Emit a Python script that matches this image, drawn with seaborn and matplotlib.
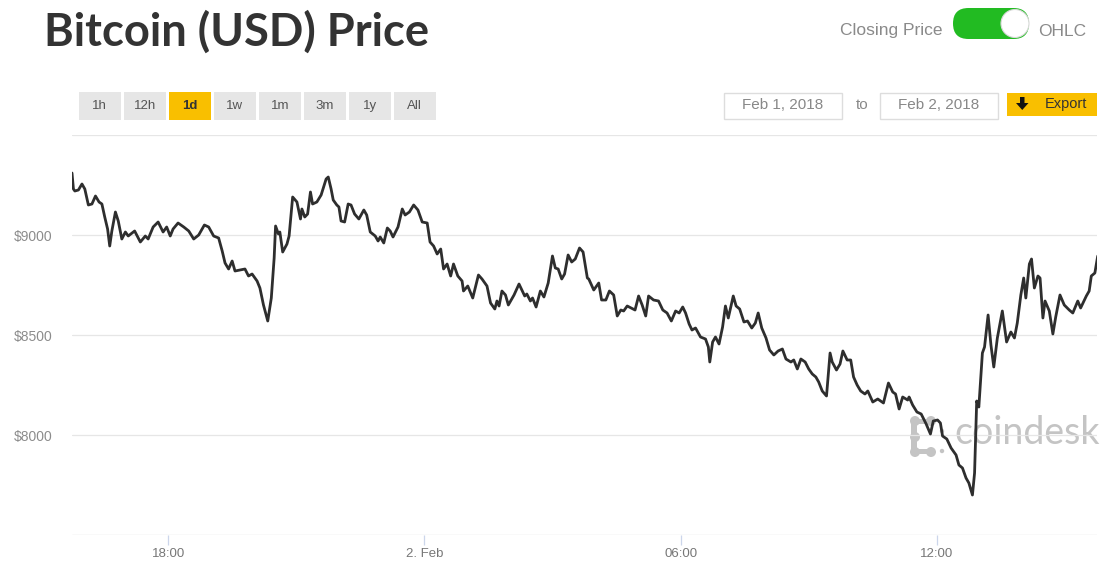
import numpy as np
import pandas as pd
import matplotlib
matplotlib.use("Agg")
import matplotlib.pyplot as plt
import matplotlib.dates as mdates
from matplotlib.patches import FancyBboxPatch, Rectangle, Circle, Polygon
import seaborn as sns

# minutes after 2018-02-01 15:45 and closing price in USD
minutes = [0, 2, 4, 9, 14, 18, 23, 28, 33, 38, 42, 46, 50, 53, 56, 61, 65, 70, 75, 79,
           88, 96, 103, 107, 114, 121, 128, 133, 138, 142, 149, 157, 164, 171, 178, 186, 192, 199, 206, 211,
           215, 220, 225, 229, 236, 243, 248, 253, 260, 264, 269, 275, 280, 284, 286, 290, 292, 296, 302, 305,
           310, 316, 321, 323, 327, 331, 335, 338, 344, 350, 357, 360, 364, 367, 372, 375, 378, 383, 388, 392,
           397, 403, 410, 414, 419, 426, 430, 433, 438, 443, 447, 451, 458, 464, 468, 474, 480, 486, 492, 499,
           503, 508, 513, 518, 522, 527, 532, 536, 542, 548, 550, 556, 563, 571, 576, 583, 588, 594, 597, 600,
           604, 609, 613, 621, 628, 632, 636, 639, 644, 647, 652, 658, 663, 669, 675, 679, 683, 688, 692, 697,
           702, 707, 713, 718, 724, 726, 733, 740, 744, 750, 755, 761, 766, 771, 775, 780, 791, 796, 801, 806,
           810, 817, 824, 830, 836, 842, 848, 853, 858, 862, 867, 871, 876, 883, 890, 894, 896, 900, 904, 909,
           914, 918, 922, 929, 933, 938, 944, 949, 955, 960, 964, 969, 975, 980, 986, 992, 998, 1003, 1010, 1014,
           1019, 1024, 1030, 1035, 1040, 1045, 1049, 1054, 1060, 1065, 1068, 1074, 1079, 1083, 1089, 1094, 1098, 1103, 1108, 1114,
           1118, 1125, 1132, 1140, 1147, 1153, 1157, 1162, 1167, 1174, 1176, 1181, 1187, 1193, 1200, 1206, 1210, 1216, 1220, 1223,
           1229, 1235, 1242, 1246, 1251, 1256, 1260, 1265, 1268, 1271, 1274, 1279, 1282, 1287, 1291, 1295, 1300, 1307, 1313, 1319,
           1324, 1328, 1333, 1337, 1340, 1345, 1348, 1352, 1357, 1360, 1364, 1367, 1373, 1378, 1382, 1388, 1394, 1401, 1406, 1413,
           1417, 1425, 1429, 1432, 1437, 1441]
prices = [9310, 9230, 9220, 9225, 9255, 9230, 9150, 9155, 9195, 9165, 9155, 9090, 9030, 8945, 9020, 9115, 9070, 8980, 9015, 8995,
          9020, 8965, 8995, 8980, 9040, 9065, 9015, 9040, 8995, 9030, 9060, 9040, 9020, 8980, 9000, 9050, 9040, 8995, 8985, 8920,
          8860, 8830, 8870, 8820, 8825, 8830, 8795, 8805, 8770, 8735, 8650, 8570, 8685, 8885, 9045, 9005, 9015, 8915, 8955, 8995,
          9190, 9165, 9080, 9130, 9090, 9105, 9215, 9155, 9165, 9200, 9280, 9290, 9230, 9175, 9150, 9140, 9070, 9065, 9155, 9150,
          9105, 9080, 9125, 9100, 9015, 8995, 8970, 8990, 8960, 9035, 9020, 8990, 9040, 9130, 9100, 9115, 9150, 9125, 9065, 9060,
          8965, 8945, 8905, 8930, 8830, 8855, 8795, 8855, 8795, 8770, 8720, 8745, 8685, 8800, 8780, 8745, 8660, 8630, 8670, 8645,
          8720, 8700, 8650, 8700, 8755, 8725, 8695, 8705, 8670, 8685, 8640, 8720, 8690, 8760, 8895, 8835, 8830, 8780, 8805, 8900,
          8865, 8880, 8935, 8915, 8785, 8780, 8725, 8760, 8675, 8675, 8720, 8700, 8595, 8625, 8620, 8645, 8625, 8695, 8650, 8595,
          8695, 8675, 8670, 8625, 8610, 8570, 8620, 8610, 8640, 8610, 8555, 8525, 8535, 8490, 8480, 8440, 8365, 8465, 8490, 8455,
          8540, 8645, 8585, 8695, 8645, 8630, 8565, 8570, 8535, 8560, 8610, 8535, 8485, 8425, 8400, 8420, 8430, 8380, 8365, 8375,
          8330, 8380, 8365, 8330, 8305, 8290, 8265, 8220, 8195, 8410, 8365, 8325, 8355, 8420, 8375, 8375, 8290, 8250, 8220, 8205,
          8220, 8165, 8180, 8160, 8260, 8215, 8205, 8130, 8190, 8175, 8190, 8150, 8115, 8105, 8055, 8005, 8070, 8075, 8060, 7995,
          7980, 7935, 7900, 7850, 7835, 7785, 7760, 7700, 7810, 8170, 8140, 8410, 8440, 8600, 8450, 8340, 8485, 8620, 8465, 8515,
          8485, 8560, 8700, 8785, 8685, 8855, 8880, 8735, 8795, 8785, 8585, 8670, 8620, 8505, 8590, 8700, 8650, 8625, 8610, 8670,
          8635, 8695, 8720, 8795, 8810, 8895]

start = pd.Timestamp("2018-02-01 15:45")
end = pd.Timestamp("2018-02-02 15:45")
y_ticks = [7500, 8000, 8500, 9000, 9500]
y_labels = ["", "$8000", "$8500", "$9000", ""]
range_buttons = ["1h", "12h", "1d", "1w", "1m", "3m", "1y", "All"]
active_range = "1d"
date_from = "Feb 1, 2018"
date_to = "Feb 2, 2018"

df = pd.DataFrame({"time": start + pd.to_timedelta(minutes, unit="m"), "price": prices})

sns.set_style("white")
plt.rcParams["font.family"] = ["Liberation Sans", "DejaVu Sans"]

W, H = 1106, 578
fig = plt.figure(figsize=(W / 100, H / 100), dpi=100)

# page decorations in pixel coordinates
bg = fig.add_axes([0, 0, 1, 1])
bg.set_xlim(0, W)
bg.set_ylim(H, 0)
bg.axis("off")

bg.text(44, 32, "Bitcoin (USD) Price", fontsize=32.7, fontweight="bold", family="Lato",
        color="#333333", va="center", ha="left")

bg.text(943, 31, "Closing Price", fontsize=12.5, color="#8a8a8a", va="center", ha="right")
bg.add_patch(FancyBboxPatch((953, 8), 76, 31, boxstyle="round,pad=0,rounding_size=15.5",
                            fc="#22bb22", ec="none"))
bg.add_patch(Circle((1015, 23.5), 14, fc="white", ec="#d8d8d8", lw=0.8))
bg.text(1038, 31, "OHLC", fontsize=12.5, color="#8a8a8a", va="center", ha="left")

for i, lab in enumerate(range_buttons):
    x0 = 79 + 45 * i
    on = lab == active_range
    bg.add_patch(Rectangle((x0, 92), 41.5, 27.5, fc="#f9bf00" if on else "#e6e6e6", ec="none"))
    bg.text(x0 + 20.75, 106, lab, fontsize=9.5, color="#333333" if on else "#555555",
            fontweight="bold" if on else "normal", ha="center", va="center")

for x0, lab in [(724, date_from), (880, date_to)]:
    bg.add_patch(Rectangle((x0, 92.5), 118, 26.5, fc="white", ec="#dddddd", lw=1))
    bg.text(x0 + 59, 105, lab, fontsize=11, color="#888888", ha="center", va="center")
bg.text(862, 105, "to", fontsize=11, color="#888888", ha="center", va="center")

bg.add_patch(Rectangle((1007, 92.5), 90, 23.5, fc="#f9bf00", ec="none"))
bg.add_patch(Polygon([(1020, 97), (1024.5, 97), (1024.5, 103), (1028.5, 103), (1022.25, 110),
                      (1016, 103), (1020, 103)], closed=True, fc="#111111", ec="none"))
bg.text(1066, 104, "Export", fontsize=10.5, color="#333333", ha="center", va="center")

# coindesk watermark
wm = "#c4c4c4"
for cx, cy in [(915, 421), (931, 421), (915, 452), (931, 452), (915, 437)]:
    bg.add_patch(Circle((cx, cy), 5, fc=wm, ec="none"))
bg.add_patch(Rectangle((912, 419), 20, 5, fc=wm, ec="none"))
bg.add_patch(Rectangle((912, 449), 20, 5, fc=wm, ec="none"))
bg.add_patch(Rectangle((911, 420), 6, 32, fc=wm, ec="none"))
bg.add_patch(Circle((942, 431), 2.2, fc=wm, ec="none"))
bg.add_patch(Circle((942, 451), 2.2, fc=wm, ec="none"))
bg.text(954, 433, "coindesk", fontsize=27, family="Lato", color=wm, ha="left", va="center")

# chart
ax = fig.add_axes([72 / W, 1 - 535 / H, (1097 - 72) / W, 400 / H])
ax.patch.set_alpha(0)
sns.lineplot(data=df, x="time", y="price", ax=ax, color="#2e2e2e", linewidth=2.0, zorder=3)

ax.set_xlim(start, end)
ax.set_ylim(y_ticks[0], y_ticks[-1])
ax.set_yticks(y_ticks)
ax.set_yticklabels(y_labels)
ax.grid(axis="y", color="#e6e6e6", linewidth=0.9)
ax.grid(axis="x", visible=False)
for s in ["top", "right", "left", "bottom"]:
    ax.spines[s].set_visible(False)
ax.axhline(y_ticks[0], color="#eeeeee", linewidth=0.9, zorder=1)

ax.xaxis.set_major_locator(mdates.HourLocator(byhour=[0, 6, 12, 18]))
ax.xaxis.set_major_formatter(plt.FuncFormatter(
    lambda v, p: "2. Feb" if mdates.num2date(v).hour == 0 else mdates.num2date(v).strftime("%H:%M")))
ax.tick_params(axis="x", length=7.5, width=0.9, color="#ccd6eb", direction="out",
               labelsize=9.5, labelcolor="#777777", pad=2, bottom=True)
ax.tick_params(axis="y", length=0, labelsize=10, labelcolor="#8c8c8c", pad=14)
ax.set_xlabel("")
ax.set_ylabel("")

fig.savefig("out.png", dpi=100)
